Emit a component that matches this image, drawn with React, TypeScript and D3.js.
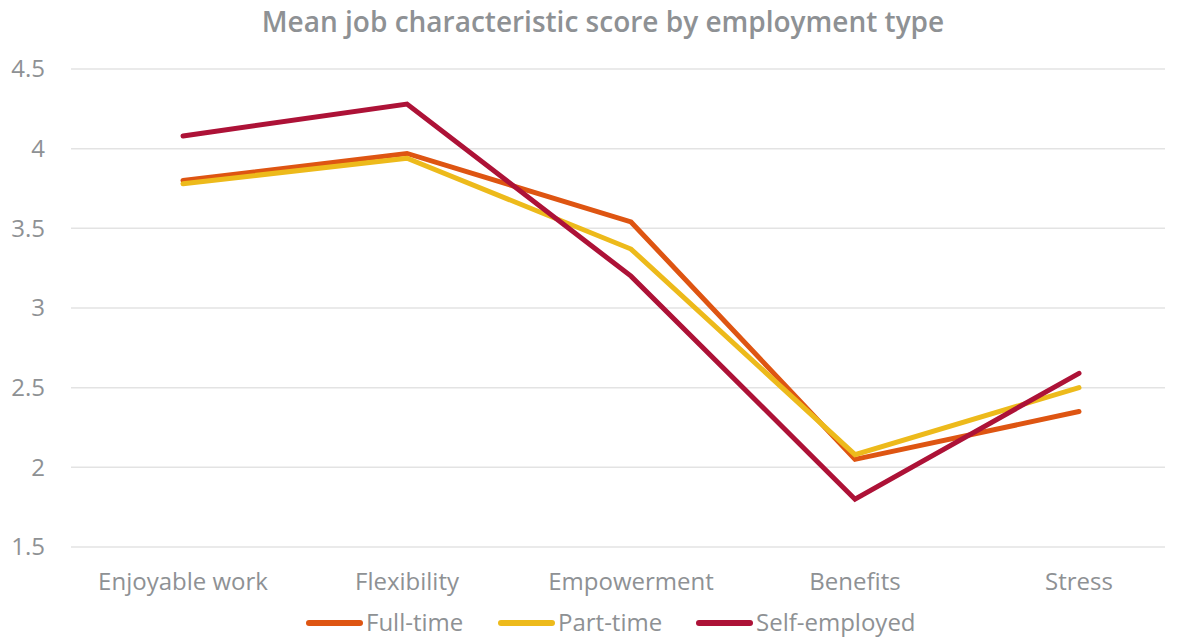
import React, { useEffect, useRef } from 'react';
import * as d3 from 'd3';

const categories = ['Enjoyable work', 'Flexibility', 'Empowerment', 'Benefits', 'Stress'];
const seriesNames = ['Full-time', 'Part-time', 'Self-employed'];
const fullTime = [3.8, 3.97, 3.54, 2.05, 2.35];
const partTime = [3.78, 3.94, 3.37, 2.08, 2.5];
const selfEmployed = [4.08, 4.28, 3.2, 1.8, 2.59];
const yTicks = [1.5, 2, 2.5, 3, 3.5, 4, 4.5];
const colors = ['#DE5512', '#EDBA1B', '#AD1237'];

const App: React.FC = () => {
  const svgRef = useRef<SVGSVGElement>(null);

  useEffect(() => {
    const width = 1181;
    const height = 639;
    const margin = { top: 69, bottom: 92, left: 71 };
    const gridRight = 1165;
    const textColor = '#8e9194';
    const font = "'Open Sans', sans-serif";

    const root = d3.select(svgRef.current);
    root.selectAll('*').remove();
    root.attr('width', width).attr('height', height).style('display', 'block');

    // category step ~224px, first point half a step in
    const x = d3.scalePoint<string>()
      .domain(categories)
      .range([margin.left, margin.left + 5 * 224])
      .padding(0.5);

    const y = d3.scaleLinear()
      .domain([1.5, 4.5])
      .range([height - margin.bottom, margin.top]);

    // Gridlines
    root.append('g')
      .selectAll('line')
      .data(yTicks)
      .enter()
      .append('line')
      .attr('x1', margin.left)
      .attr('x2', gridRight)
      .attr('y1', d => y(d))
      .attr('y2', d => y(d))
      .attr('stroke', '#e3e3e3')
      .attr('stroke-width', 1.5);

    // Y tick labels
    root.append('g')
      .selectAll('text')
      .data(yTicks)
      .enter()
      .append('text')
      .attr('x', 45)
      .attr('y', d => y(d))
      .attr('dy', '0.35em')
      .attr('text-anchor', 'end')
      .style('font-family', font)
      .style('font-size', '24px')
      .style('fill', textColor)
      .text(d => String(d));

    // X category labels
    root.append('g')
      .selectAll('text')
      .data(categories)
      .enter()
      .append('text')
      .attr('x', d => x(d) as number)
      .attr('y', 590)
      .attr('text-anchor', 'middle')
      .style('font-family', font)
      .style('font-size', '24px')
      .style('fill', textColor)
      .text(d => d);

    // Lines
    const allSeries = [fullTime, partTime, selfEmployed];
    const line = d3.line<number>()
      .x((_, i) => x(categories[i]) as number)
      .y(d => y(d));

    allSeries.forEach((vals, i) => {
      root.append('path')
        .datum(vals)
        .attr('d', line)
        .attr('fill', 'none')
        .attr('stroke', colors[i])
        .attr('stroke-width', 5)
        .attr('stroke-linejoin', 'miter')
        .attr('stroke-linecap', 'round');
    });

    // Title
    root.append('text')
      .attr('x', 603)
      .attr('y', 32)
      .attr('text-anchor', 'middle')
      .style('font-family', font)
      .style('font-size', '28px')
      .style('font-weight', 600)
      .style('fill', textColor)
      .text('Mean job characteristic score by employment type');

    // Legend
    const legendX = [306, 498, 696];
    const legendY = 623;
    seriesNames.forEach((name, i) => {
      const g = root.append('g').attr('transform', `translate(${legendX[i]},${legendY})`);
      g.append('line')
        .attr('x1', 3)
        .attr('x2', 54)
        .attr('y1', 0)
        .attr('y2', 0)
        .attr('stroke', colors[i])
        .attr('stroke-width', 6)
        .attr('stroke-linecap', 'round');
      g.append('text')
        .attr('x', 60)
        .attr('y', 0)
        .attr('dy', '0.35em')
        .style('font-family', font)
        .style('font-size', '24px')
        .style('fill', textColor)
        .text(name);
    });
  }, []);

  return (
    <div style={{ position: 'absolute', left: 0, top: 0, background: '#fff' }}>
      <svg ref={svgRef}></svg>
    </div>
  );
};

export default App;
